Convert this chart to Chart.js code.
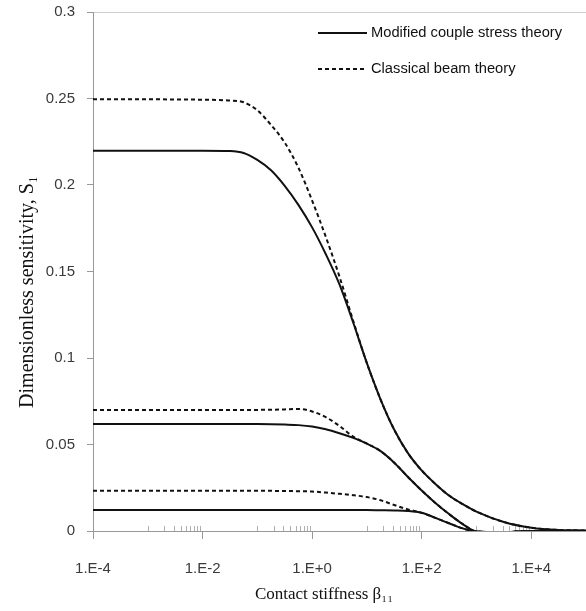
<!DOCTYPE html>
<html>
<head>
<meta charset="utf-8">
<script src="https://cdn.jsdelivr.net/npm/chart.js@4.4.0/dist/chart.umd.min.js"></script>
<style>
  html, body { margin: 0; padding: 0; background: #fff; }
  #wrap { width: 586px; height: 611px; }
</style>
</head>
<body>
<div id="wrap"><canvas id="chart" width="586" height="611"></canvas></div>
<script>
// contact stiffness values (log spaced)
const beta = [1e-4, 1e-3, 1e-2, 0.0316, 0.0562, 0.1, 0.178, 0.316, 0.562, 1, 1.78, 3.16, 5.62, 10, 17.8, 31.6, 56.2, 100, 178, 316, 562, 1000, 3160, 1e4, 31600, 1e5];

// upper pair
const mcstUpper = [0.2198, 0.2198, 0.2198, 0.2196, 0.2185, 0.2145, 0.2085, 0.1995, 0.1885, 0.1755, 0.1600, 0.1425, 0.1205, 0.0970, 0.0760, 0.0585, 0.0450, 0.0350, 0.0272, 0.0205, 0.0155, 0.0112, 0.0052, 0.0019, 0.0006, 0.0003];
const cbtUpper  = [0.2495, 0.2495, 0.2493, 0.2488, 0.2478, 0.2432, 0.2347, 0.2245, 0.2100, 0.1910, 0.1700, 0.1470, 0.1215, 0.0970, 0.0760, 0.0585, 0.0450, 0.0350, 0.0272, 0.0205, 0.0155, 0.0112, 0.0052, 0.0019, 0.0006, 0.0003];
// middle pair
const mcstMiddle = [0.0618, 0.0618, 0.0618, 0.0618, 0.0618, 0.0618, 0.0617, 0.0615, 0.0612, 0.0604, 0.0588, 0.0565, 0.0538, 0.0505, 0.0462, 0.0395, 0.0312, 0.0234, 0.0162, 0.0098, 0.0040, -0.0003, -0.0007, 0.0, 0.0, 0.0];
const cbtMiddle  = [0.0699, 0.0699, 0.0699, 0.0699, 0.0699, 0.0700, 0.0701, 0.0703, 0.0705, 0.0691, 0.0658, 0.0607, 0.0545, 0.0505, 0.0462, 0.0395, 0.0312, 0.0234, 0.0162, 0.0098, 0.0040, -0.0003, -0.0007, 0.0, 0.0, 0.0];
// lower pair
const mcstLower = [0.0121, 0.0121, 0.0121, 0.0121, 0.0121, 0.0121, 0.0121, 0.0121, 0.0121, 0.0121, 0.0121, 0.0121, 0.0121, 0.0121, 0.0120, 0.0119, 0.0116, 0.0105, 0.0076, 0.0045, 0.0015, -0.0003, -0.0007, 0.0, 0.0, 0.0];
const cbtLower  = [0.0232, 0.0232, 0.0232, 0.0232, 0.0232, 0.0232, 0.0232, 0.0231, 0.0230, 0.0228, 0.0222, 0.0215, 0.0207, 0.0196, 0.0178, 0.0150, 0.0125, 0.0105, 0.0076, 0.0045, 0.0015, -0.0003, -0.0007, 0.0, 0.0, 0.0];

const xTickValues = [1e-4, 1e-2, 1, 1e2, 1e4];
const xTickLabels = ['1.E-4', '1.E-2', '1.E+0', '1.E+2', '1.E+4'];
const yTickValues = [0, 0.05, 0.1, 0.15, 0.2, 0.25, 0.3];
const yTickLabels = ['0', '0.05', '0.1', '0.15', '0.2', '0.25', '0.3'];
// decades that carry the small inner minor ticks (1..9 x 10^d)
const minorTickDecades = [-3, -1, 1, 3];

const legendNames = ['Modified couple stress theory', 'Classical beam theory'];
const xTitle = 'Contact stiffness β₁₁';
const yTitle = 'Dimensionless sensitivity, S₁';

const toPoints = (ys) => beta.map((b, i) => ({ x: b, y: ys[i] }));

const solid = (ys) => ({
    data: toPoints(ys),
    borderColor: '#111',
    borderWidth: 2,
    pointRadius: 0,
    cubicInterpolationMode: 'monotone'
});
const dashed = (ys) => ({
    data: toPoints(ys),
    borderColor: '#111',
    borderWidth: 2,
    borderDash: [4, 3],
    pointRadius: 0,
    cubicInterpolationMode: 'monotone'
});

// small minor ticks pointing up from the x axis
const minorTicks = {
    id: 'minorTicks',
    beforeDatasetsDraw(chart) {
        const { ctx, chartArea, scales } = chart;
        ctx.save();
        ctx.strokeStyle = '#b0b0b0';
        ctx.lineWidth = 1;
        minorTickDecades.forEach(d => {
            for (let m = 1; m <= 9; m++) {
                const px = Math.round(scales.x.getPixelForValue(m * Math.pow(10, d))) + 0.5;
                ctx.beginPath();
                ctx.moveTo(px, chartArea.bottom);
                ctx.lineTo(px, chartArea.bottom - 5);
                ctx.stroke();
            }
        });
        ctx.restore();
    }
};

// axis titles (placed a bit off-centre like the original figure)
const axisTitles = {
    id: 'axisTitles',
    afterDraw(chart) {
        const { ctx, chartArea } = chart;
        ctx.save();
        ctx.fillStyle = '#111';
        ctx.textAlign = 'center';
        ctx.textBaseline = 'middle';
        ctx.font = '17px "Liberation Serif", "Times New Roman", serif';
        ctx.fillText(xTitle, chartArea.left + 231, chartArea.bottom + 64);
        ctx.translate(chartArea.left - 65, chartArea.top + 280);
        ctx.rotate(-Math.PI / 2);
        ctx.font = '20px "Liberation Serif", "Times New Roman", serif';
        ctx.fillText(yTitle, 0, 0);
        ctx.restore();
    }
};

// legend drawn inside the plot, top right
const legendInside = {
    id: 'legendInside',
    afterDraw(chart) {
        const { ctx, chartArea } = chart;
        const x0 = chartArea.left + 225;
        const rows = [chartArea.top + 21, chartArea.top + 57];
        ctx.save();
        ctx.font = '14.7px "Liberation Sans", Arial, sans-serif';
        ctx.fillStyle = '#111';
        ctx.textBaseline = 'middle';
        rows.forEach((y, i) => {
            ctx.beginPath();
            ctx.strokeStyle = '#111';
            ctx.lineWidth = 2;
            ctx.setLineDash(i === 0 ? [] : [4, 3]);
            ctx.moveTo(x0, y);
            ctx.lineTo(x0 + 49, y);
            ctx.stroke();
            ctx.fillText(legendNames[i], x0 + 53, y);
        });
        ctx.restore();
    }
};

new Chart(document.getElementById('chart'), {
    type: 'line',
    data: {
        datasets: [
            solid(mcstUpper), dashed(cbtUpper),
            solid(mcstMiddle), dashed(cbtMiddle),
            solid(mcstLower), dashed(cbtLower)
        ]
    },
    options: {
        responsive: false,
        animation: false,
        devicePixelRatio: 1,
        layout: { padding: { top: 12, right: 0, left: 0, bottom: 0 } },
        plugins: {
            legend: { display: false },
            tooltip: { enabled: false }
        },
        scales: {
            x: {
                type: 'logarithmic',
                min: 1e-4,
                max: 1e5,
                afterBuildTicks: (scale) => {
                    scale.ticks = xTickValues.map(v => ({ value: v, major: true }));
                },
                afterFit: (scale) => {
                    scale.height = 80;
                    scale.paddingLeft = 0;
                    scale.paddingRight = 0;
                },
                ticks: {
                    autoSkip: false,
                    maxRotation: 0,
                    padding: 21,
                    color: '#3a3a3a',
                    font: { family: '"Liberation Sans", Arial, sans-serif', size: 15 },
                    callback: (value) => xTickLabels[xTickValues.indexOf(value)]
                },
                grid: { display: true, drawOnChartArea: false, color: '#999', tickLength: 8 },
                border: { display: true, color: '#999', width: 1 },
                title: { display: false }
            },
            y: {
                type: 'linear',
                min: 0,
                max: 0.3,
                afterBuildTicks: (scale) => {
                    scale.ticks = yTickValues.map(v => ({ value: v }));
                },
                afterFit: (scale) => {
                    scale.width = 93;
                    scale.paddingTop = 0;
                    scale.paddingBottom = 0;
                },
                ticks: {
                    padding: 12,
                    color: '#3a3a3a',
                    font: { family: '"Liberation Sans", Arial, sans-serif', size: 15 },
                    callback: (value) => yTickLabels[yTickValues.indexOf(value)]
                },
                grid: {
                    display: true,
                    drawOnChartArea: true,
                    color: (c) => (c.tick && c.tick.value === 0.3 ? '#cfcfcf' : 'rgba(0,0,0,0)'),
                    tickColor: '#999',
                    tickLength: 6
                },
                border: { display: true, color: '#999', width: 1 },
                title: { display: false }
            }
        }
    },
    plugins: [minorTicks, axisTitles, legendInside]
});
</script>
</body>
</html>
